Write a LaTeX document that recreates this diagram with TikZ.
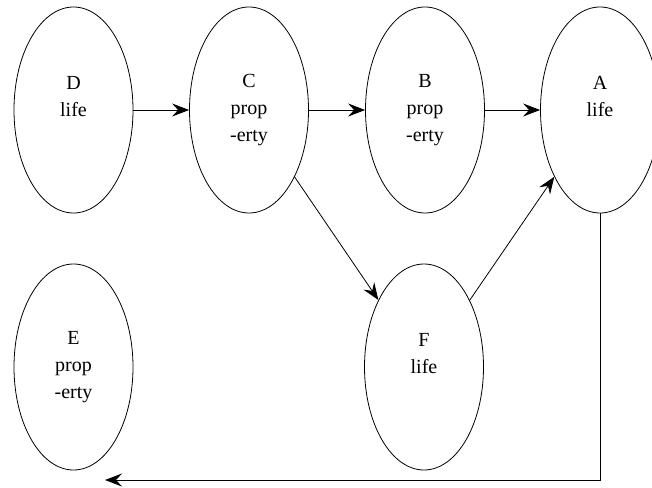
\documentclass[tikz,border=0pt]{standalone}
\usepackage{fontspec}
\setmainfont{Liberation Serif}
\usetikzlibrary{shapes.geometric, arrows.meta}

\begin{document}
\begin{tikzpicture}[x = 1pt, y = -1pt, line width = 0.8pt,
    stage/.style = {draw, ellipse, minimum width = 119pt, minimum height = 206pt,
        inner sep = 0pt, align = center, font = \fontsize{20}{27}\selectfont},
    >={Stealth[length = 17pt, width = 13pt, inset = 6pt]}]
    \useasboundingbox (0,0) rectangle (652,487);
    \node[stage] (D) at (73.5,110) {D\\life\\\mbox{}};
    \node[stage] (C) at (249,110) {C\\prop\\-erty};
    \node[stage] (B) at (425,110) {B\\prop\\-erty};
    \node[stage] (A) at (600,110) {A\\life\\\mbox{}};
    \node[stage] (E) at (73.5,367) {E\\prop\\-erty};
    \node[stage] (F) at (424,367) {F\\life\\\mbox{}};
    \coordinate (end) at (105,480);
    \draw[->] (D) -- (C);
    \draw[->] (C) -- (B);
    \draw[->] (B) -- (A);
    \draw[->] (C) -- (F);
    \draw[->] (F) -- (A);
    \draw[->] (A.south) |- (end);
\end{tikzpicture}
\end{document}
